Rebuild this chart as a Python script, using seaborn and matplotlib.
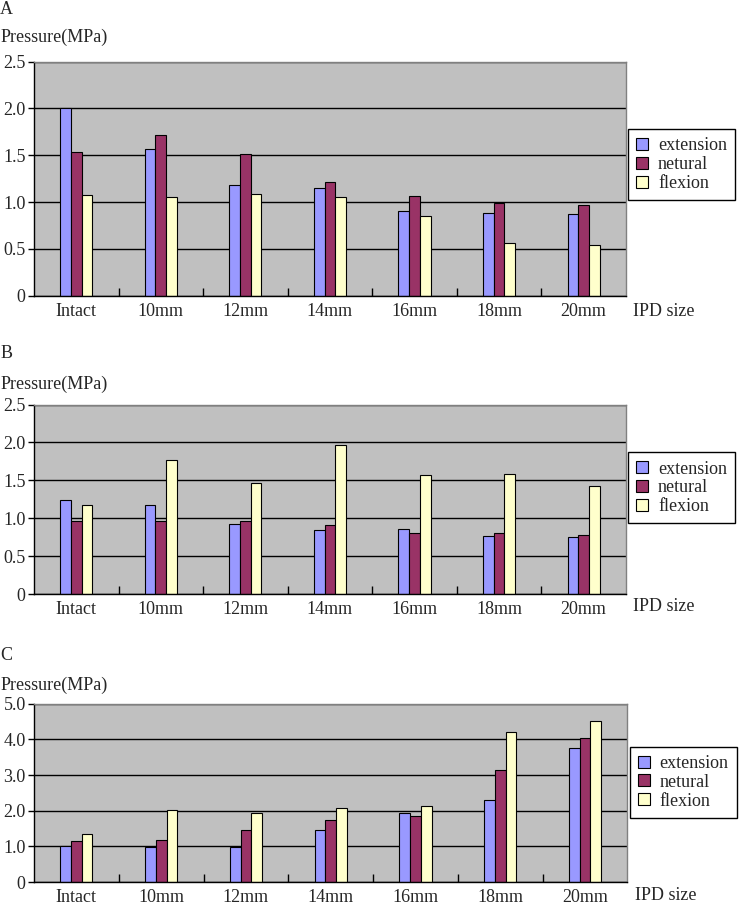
import pandas as pd
import matplotlib
matplotlib.use("Agg")
import matplotlib.pyplot as plt
import seaborn as sns
from matplotlib.patches import Patch

sns.set_style("white")
plt.rcParams["font.family"] = ["Liberation Serif", "DejaVu Serif"]

# -----------------------------
# Data
# -----------------------------
sizes = ["Intact", "10mm", "12mm", "14mm", "16mm", "18mm", "20mm"]
postures = ["extension", "netural", "flexion"]

a_extension = [2.01, 1.57, 1.18, 1.15, 0.90, 0.88, 0.87]
a_netural = [1.53, 1.72, 1.51, 1.21, 1.06, 0.99, 0.97]
a_flexion = [1.08, 1.05, 1.09, 1.05, 0.85, 0.56, 0.54]

b_extension = [1.24, 1.17, 0.92, 0.84, 0.86, 0.77, 0.75]
b_netural = [0.97, 0.97, 0.97, 0.91, 0.81, 0.80, 0.78]
b_flexion = [1.18, 1.77, 1.47, 1.97, 1.57, 1.59, 1.42]

c_extension = [1.00, 0.98, 0.98, 1.46, 1.95, 2.31, 3.77]
c_netural = [1.16, 1.18, 1.45, 1.73, 1.84, 3.15, 4.05]
c_flexion = [1.34, 2.03, 1.93, 2.07, 2.12, 4.22, 4.51]

colors = {"extension": "#9999ff", "netural": "#993366", "flexion": "#ffffcc"}

panels = [
    ("A", [a_extension, a_netural, a_flexion], 2.5, [0, 0.5, 1.0, 1.5, 2.0, 2.5],
     ["0", "0.5", "1.0", "1.5", "2.0", "2.5"], [0.045, 0.674, 0.784, 0.258]),
    ("B", [b_extension, b_netural, b_flexion], 2.5, [0, 0.5, 1.0, 1.5, 2.0, 2.5],
     ["0", "0.5", "1.0", "1.5", "2.0", "2.5"], [0.045, 0.345, 0.784, 0.209]),
    ("C", [c_extension, c_netural, c_flexion], 5.0, [0, 1, 2, 3, 4, 5],
     ["0", "1.0", "2.0", "3.0", "4.0", "5.0"], [0.045, 0.0275, 0.786, 0.1965]),
]

fig = plt.figure(figsize=(7.55, 9.07), dpi=100)

for letter, series, ymax, yticks, ylabels, pos in panels:
    rows = []
    for name, vals in zip(postures, series):
        for s, v in zip(sizes, vals):
            rows.append({"size": s, "posture": name, "pressure": v})
    df = pd.DataFrame(rows)

    ax = fig.add_axes(pos)
    ax.set_facecolor("#c0c0c0")
    ax.set_axisbelow(True)
    sns.barplot(data=df, x="size", y="pressure", hue="posture",
                order=sizes, hue_order=postures, palette=colors,
                width=0.38, saturation=1, edgecolor="black", linewidth=0.8,
                legend=False, ax=ax)

    ax.set_xlim(-0.5, 6.5)
    ax.set_ylim(0, ymax)
    ax.set_yticks(yticks)
    ax.set_yticklabels(ylabels, fontsize=13)
    ax.yaxis.grid(True, color="black", linewidth=1)
    ax.tick_params(axis="y", direction="out", length=4, width=1, color="black", pad=2, left=True)

    # tick marks between groups, labels at group centers
    ax.set_xticks([0.5, 1.5, 2.5, 3.5, 4.5, 5.5])
    ax.set_xticklabels([])
    ax.tick_params(axis="x", which="major", direction="in", length=6, width=1, color="black", bottom=True)
    ax.set_xticks(range(len(sizes)), minor=True)
    ax.set_xticklabels(sizes, minor=True, fontsize=13)
    ax.tick_params(axis="x", which="minor", length=0, pad=5)

    ax.set_xlabel("")
    ax.set_ylabel("")
    for side in ["top", "right"]:
        ax.spines[side].set_color("#808080")
        ax.spines[side].set_linewidth(1)
    for side in ["left", "bottom"]:
        ax.spines[side].set_color("black")
        ax.spines[side].set_linewidth(1)

    ax.text(1.012, -0.068 if letter != "C" else -0.075, "IPD size", transform=ax.transAxes,
            fontsize=13, ha="left", va="center")
    ax.text(-0.057, 1.105, "Pressure(MPa)", transform=ax.transAxes, fontsize=13,
            ha="left", va="center")
    ax.text(-0.057, 1.225 if letter == "A" else 1.27, letter, transform=ax.transAxes,
            fontsize=13, ha="left", va="center")

    handles = [Patch(facecolor=colors[p], edgecolor="black", linewidth=0.8) for p in postures]
    leg = ax.legend(handles, postures, loc="center left", bbox_to_anchor=(1.004, 0.56),
                    fontsize=13, frameon=True, fancybox=False, framealpha=1,
                    edgecolor="black", handlelength=0.65, handleheight=0.65,
                    handletextpad=0.55, labelspacing=0.1, borderpad=0.45,
                    borderaxespad=0)
    leg.get_frame().set_linewidth(1)

fig.savefig("out.png", dpi=100)
